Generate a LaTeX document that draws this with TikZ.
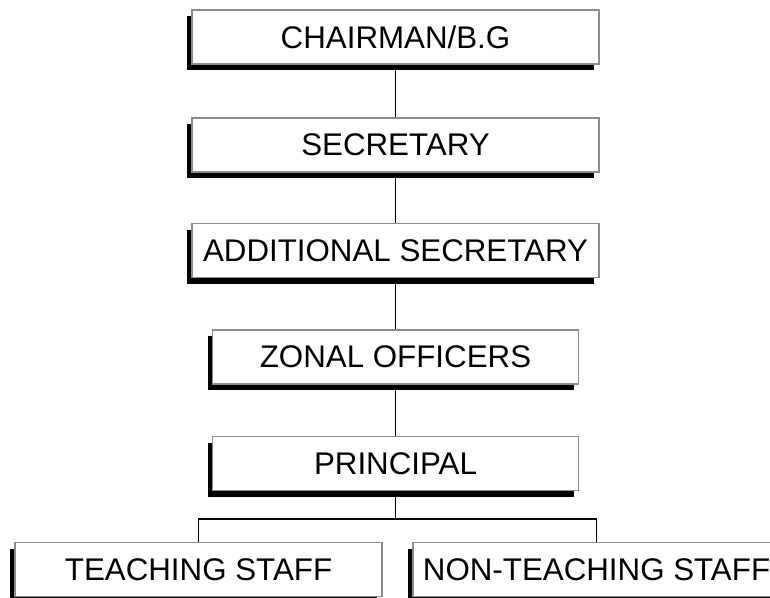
\documentclass[tikz,border=0pt]{standalone}
\usepackage{fontspec}
\setmainfont{Liberation Sans}
\usetikzlibrary{shadows}
\begin{document}
\begin{tikzpicture}[x=1pt,y=-1pt,
  orgbox/.style={draw={rgb,255:red,140;green,140;blue,140}, line width=1.6pt, fill=white,
    minimum height=54pt, inner sep=0pt,
    font=\fontsize{31.3}{37}\selectfont,
    general shadow={fill=black, shadow xshift=-5pt, shadow yshift=-6pt}},
  conn/.style={draw=black, line width=1.8pt}]
\useasboundingbox (0,0) rectangle (770,597);
\clip (0,0) rectangle (770,597);
\node[orgbox, minimum width=407pt] (ch) at (395.5,37) {CHAIRMAN/B.G};
\node[orgbox, minimum width=407pt] (se) at (395.5,145) {SECRETARY};
\node[orgbox, minimum width=407pt] (as) at (395.5,250.5) {ADDITIONAL SECRETARY};
\node[orgbox, minimum width=366pt] (zo) at (395.5,357) {ZONAL OFFICERS};
\node[orgbox, minimum width=366pt] (pr) at (395.5,463.5) {PRINCIPAL};
\node[orgbox, minimum width=367pt] (ts) at (198.5,569.5) {TEACHING STAFF};
\node[orgbox, minimum width=367pt] (nt) at (596.5,569.5) {NON-TEACHING STAFF};
\coordinate (split) at (395.5,519);
\draw[conn] (ch.south) -- (se.north);
\draw[conn] (se.south) -- (as.north);
\draw[conn] (as.south) -- (zo.north);
\draw[conn] (zo.south) -- (pr.north);
\draw[conn] (pr.south) -- (split);
\draw[conn] (ts.north) |- (split) -| (nt.north);
\end{tikzpicture}
\end{document}
